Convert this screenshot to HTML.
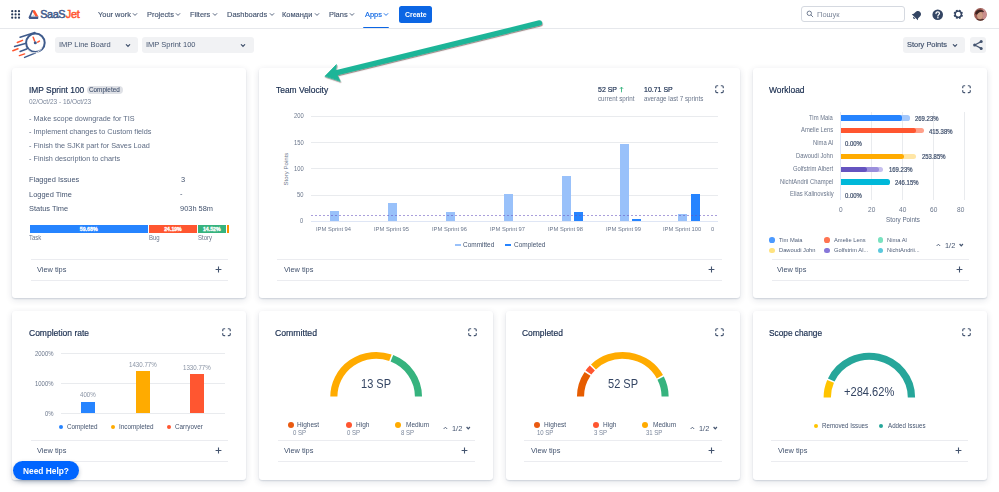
<!DOCTYPE html>
<html><head><meta charset="utf-8"><style>
html,body{margin:0;padding:0;background:#fff;width:999px;height:492px;overflow:hidden;position:relative;font-family:'Liberation Sans', sans-serif}
.t{position:absolute;white-space:nowrap}
.r{position:absolute}
svg.r{overflow:visible}
.card{position:absolute;background:#fff;border-radius:3px;box-shadow:0 1px 1.5px rgba(9,30,66,.13),0 2px 7px rgba(9,30,66,.12)}
</style></head><body>
<svg class="r" style="left:11px;top:10px;" width="9" height="9.5" viewBox="0 0 9 9.5"><circle cx="1.20" cy="1.20" r="1.1" fill="#253858"/><circle cx="1.20" cy="4.45" r="1.1" fill="#253858"/><circle cx="1.20" cy="7.70" r="1.1" fill="#253858"/><circle cx="4.60" cy="1.20" r="1.1" fill="#253858"/><circle cx="4.60" cy="4.45" r="1.1" fill="#253858"/><circle cx="4.60" cy="7.70" r="1.1" fill="#253858"/><circle cx="8.00" cy="1.20" r="1.1" fill="#253858"/><circle cx="8.00" cy="4.45" r="1.1" fill="#253858"/><circle cx="8.00" cy="7.70" r="1.1" fill="#253858"/></svg>
<svg class="r" style="left:27.5px;top:9.5px;" width="11" height="9.5" viewBox="0 0 11 9.5"><path d="M3.7 0.2 L6.8 0.2 L10.4 6.6 L7.5 6.6 Z" fill="#ff5630"/><path d="M3.7 0.2 L5.3 0.2 L2.9 6.4 L7.6 6.4 L10.4 6.6 L10.1 8.9 L1.3 9.1 L0.5 7.5 Z" fill="#42598a"/><path d="M3.6 6.8 L7.2 6.8 L5.7 4.2 Z" fill="#b8c2d3" opacity="0.8"/></svg>
<div class="t" style="left:40.31px;top:9px;font-size:10.90px;line-height:10.90px;color:#3f5a8a;font-weight:400;-webkit-text-stroke:0.5px #3f5a8a;letter-spacing:-0.450px;">SaaS</div>
<div class="t" style="left:65.74px;top:9px;font-size:10.90px;line-height:10.90px;color:#ff5630;font-weight:400;-webkit-text-stroke:0.5px #ff5630;letter-spacing:-0.300px;">Jet</div>
<div class="t" style="left:97.91px;top:11px;font-size:8.05px;line-height:8.05px;color:#44546f;font-weight:400;-webkit-text-stroke:0.15px #44546f;transform:scaleX(0.9259);transform-origin:0 0;">Your work</div>
<svg class="r" style="left:132.37px;top:12.3px;" width="6" height="5" viewBox="0 0 6 5"><path d="M1.2 1.6 L3 3.4 L4.8 1.6" stroke="#44546f" stroke-width="0.9" fill="none" stroke-linecap="round"/></svg>
<div class="t" style="left:147.20px;top:11px;font-size:8.05px;line-height:8.05px;color:#44546f;font-weight:400;-webkit-text-stroke:0.15px #44546f;transform:scaleX(0.9259);transform-origin:0 0;">Projects</div>
<svg class="r" style="left:175.44px;top:12.3px;" width="6" height="5" viewBox="0 0 6 5"><path d="M1.2 1.6 L3 3.4 L4.8 1.6" stroke="#44546f" stroke-width="0.9" fill="none" stroke-linecap="round"/></svg>
<div class="t" style="left:190.20px;top:11px;font-size:8.05px;line-height:8.05px;color:#44546f;font-weight:400;-webkit-text-stroke:0.15px #44546f;transform:scaleX(0.9259);transform-origin:0 0;">Filters</div>
<svg class="r" style="left:211.81px;top:12.3px;" width="6" height="5" viewBox="0 0 6 5"><path d="M1.2 1.6 L3 3.4 L4.8 1.6" stroke="#44546f" stroke-width="0.9" fill="none" stroke-linecap="round"/></svg>
<div class="t" style="left:227.10px;top:11px;font-size:8.05px;line-height:8.05px;color:#44546f;font-weight:400;-webkit-text-stroke:0.15px #44546f;transform:scaleX(0.9259);transform-origin:0 0;">Dashboards</div>
<svg class="r" style="left:268.6px;top:12.3px;" width="6" height="5" viewBox="0 0 6 5"><path d="M1.2 1.6 L3 3.4 L4.8 1.6" stroke="#44546f" stroke-width="0.9" fill="none" stroke-linecap="round"/></svg>
<div class="t" style="left:282.20px;top:11px;font-size:8.05px;line-height:8.05px;color:#44546f;font-weight:400;-webkit-text-stroke:0.15px #44546f;transform:scaleX(0.9259);transform-origin:0 0;">Команди</div>
<svg class="r" style="left:313.68px;top:12.3px;" width="6" height="5" viewBox="0 0 6 5"><path d="M1.2 1.6 L3 3.4 L4.8 1.6" stroke="#44546f" stroke-width="0.9" fill="none" stroke-linecap="round"/></svg>
<div class="t" style="left:329.40px;top:11px;font-size:8.05px;line-height:8.05px;color:#44546f;font-weight:400;-webkit-text-stroke:0.15px #44546f;transform:scaleX(0.9259);transform-origin:0 0;">Plans</div>
<svg class="r" style="left:349.37px;top:12.3px;" width="6" height="5" viewBox="0 0 6 5"><path d="M1.2 1.6 L3 3.4 L4.8 1.6" stroke="#44546f" stroke-width="0.9" fill="none" stroke-linecap="round"/></svg>
<div class="t" style="left:364.50px;top:11px;font-size:8.05px;line-height:8.05px;color:#0c66e4;font-weight:400;-webkit-text-stroke:0.15px #0c66e4;transform:scaleX(0.9259);transform-origin:0 0;">Apps</div>
<svg class="r" style="left:382.83px;top:12.3px;" width="6" height="5" viewBox="0 0 6 5"><path d="M1.2 1.6 L3 3.4 L4.8 1.6" stroke="#0c66e4" stroke-width="0.9" fill="none" stroke-linecap="round"/></svg>
<div class="r" style="left:363.00px;top:27.10px;width:25.60px;height:2.00px;background:#0c66e4;border-radius:1px"></div>
<div class="r" style="left:399.10px;top:6.10px;width:32.90px;height:16.50px;background:#0c66e4;border-radius:2.5px"></div>
<div class="t" style="left:404.72px;top:11px;font-size:7.47px;line-height:7.47px;color:#fff;font-weight:700;transform:scaleX(0.9259);transform-origin:0 0;">Create</div>
<div class="r" style="left:0.00px;top:28.00px;width:999.00px;height:1.00px;background:#e6e8ec;"></div>
<div class="r" style="left:801.20px;top:6.10px;width:103.80px;height:16.00px;background:#fff;border:1.2px solid #d5d9e0;border-radius:3px;box-sizing:border-box"></div>
<svg class="r" style="left:805.5px;top:10px;" width="8" height="8" viewBox="0 0 8 8"><circle cx="3.3" cy="3.3" r="2.2" stroke="#626f86" stroke-width="0.9" fill="none"/><path d="M5 5 L6.8 6.8" stroke="#626f86" stroke-width="0.9" stroke-linecap="round"/></svg>
<div class="t" style="left:817.40px;top:11px;font-size:8.10px;line-height:8.10px;color:#7d879a;font-weight:400;transform:scaleX(0.9259);transform-origin:0 0;">Пошук</div>
<svg class="r" style="left:911px;top:8.5px;" width="12" height="12" viewBox="0 0 12 12"><g transform="rotate(45 6 6)"><path d="M6 1.6 C3.8 1.6 2.9 3.3 2.9 5.3 L2.9 7.5 L1.7 9.1 L10.3 9.1 L9.1 7.5 L9.1 5.3 C9.1 3.3 8.2 1.6 6 1.6 Z" fill="#344563"/><path d="M4.7 9.7 L7.3 9.7 C7.2 10.7 6.6 11 6 11 C5.4 11 4.8 10.7 4.7 9.7Z" fill="#344563"/></g></svg>
<svg class="r" style="left:932px;top:8.6px;" width="11.5" height="11.5" viewBox="0 0 11.5 11.5"><circle cx="5.7" cy="5.7" r="5.3" fill="#344563"/><path d="M4 4.5 C4 3.4 4.8 2.8 5.8 2.8 C6.8 2.8 7.5 3.4 7.5 4.4 C7.5 5.6 5.9 5.7 5.9 7" stroke="#fff" stroke-width="1.25" fill="none" stroke-linecap="round"/><circle cx="5.9" cy="8.8" r="0.8" fill="#fff"/></svg>
<svg class="r" style="left:953px;top:9px;" width="10.6" height="10.6" viewBox="0 0 10.6 10.6"><circle cx="5.3" cy="5.3" r="3.15" fill="none" stroke="#344563" stroke-width="1.35"/><rect x="4.3" y="0.6" width="2" height="2.2" rx="0.4" fill="#344563" transform="rotate(22.5 5.3 5.3)"/><rect x="4.3" y="0.6" width="2" height="2.2" rx="0.4" fill="#344563" transform="rotate(67.5 5.3 5.3)"/><rect x="4.3" y="0.6" width="2" height="2.2" rx="0.4" fill="#344563" transform="rotate(112.5 5.3 5.3)"/><rect x="4.3" y="0.6" width="2" height="2.2" rx="0.4" fill="#344563" transform="rotate(157.5 5.3 5.3)"/><rect x="4.3" y="0.6" width="2" height="2.2" rx="0.4" fill="#344563" transform="rotate(202.5 5.3 5.3)"/><rect x="4.3" y="0.6" width="2" height="2.2" rx="0.4" fill="#344563" transform="rotate(247.5 5.3 5.3)"/><rect x="4.3" y="0.6" width="2" height="2.2" rx="0.4" fill="#344563" transform="rotate(292.5 5.3 5.3)"/><rect x="4.3" y="0.6" width="2" height="2.2" rx="0.4" fill="#344563" transform="rotate(337.5 5.3 5.3)"/></svg>
<svg class="r" style="left:973.8px;top:8px;" width="12.8" height="12.8" viewBox="0 0 12.8 12.8"><defs><clipPath id="avc"><circle cx="6.4" cy="6.4" r="6.3"/></clipPath></defs><g clip-path="url(#avc)"><rect width="13" height="13" fill="#9a5a52"/><rect x="8.5" y="0" width="5" height="13" fill="#c98e8e"/><ellipse cx="6" cy="7.6" rx="2.9" ry="3.8" fill="#cf9f86"/><path d="M1.2 6 C1.2 1.3 8.5 0.2 10.2 4.2 C8 3.2 4.5 3.6 3 6.8 Z" fill="#3b2320"/><path d="M0 13 C1 10.8 3.5 10.5 6 11.5 C8.5 10.5 10.5 10.8 13 13 Z" fill="#4d302b"/></g></svg>
<svg class="r" style="left:12px;top:28px;" width="36" height="32" viewBox="0 0 36 32"><g fill="none" stroke="#3f5b8c" stroke-width="1.5" stroke-linecap="round">
<circle cx="23.4" cy="14.8" r="9.3" stroke-width="2"/>
<path d="M8.1 9.3 L22.9 4.5"/><path d="M2.6 18.5 L13.3 15.5"/><path d="M8.1 23.5 L15.3 20.7"/><path d="M12.6 29.4 L23.6 24.9"/>
</g>
<path d="M15.5 21 A8 8 0 0 0 30 19" stroke="#e2e4e8" stroke-width="1" fill="none"/>
<g stroke="#ff5630" stroke-width="1.5" stroke-linecap="round">
<path d="M5.3 14.5 L10.5 12.4"/><path d="M0.8 22.8 L6 20.7"/><path d="M7.4 27.6 L12.6 25.9"/>
<path d="M21.2 9.3 L22.6 13.1"/><path d="M25.7 14.2 L27.4 13.1"/>
</g>
<circle cx="23.3" cy="14.8" r="1.5" fill="#3f5b8c"/></svg>
<div class="r" style="left:54.60px;top:36.90px;width:83.30px;height:16.20px;background:#f1f2f4;border-radius:3px"></div>
<div class="r" style="left:142.00px;top:36.90px;width:112.00px;height:16.20px;background:#f1f2f4;border-radius:3px"></div>
<div class="t" style="left:58.72px;top:41px;font-size:8.12px;line-height:8.12px;color:#44546f;font-weight:400;transform:scaleX(0.9259);transform-origin:0 0;">IMP Line Board</div>
<div class="t" style="left:145.82px;top:41px;font-size:8.12px;line-height:8.12px;color:#44546f;font-weight:400;transform:scaleX(0.9259);transform-origin:0 0;">IMP Sprint 100</div>
<svg class="r" style="left:124.8px;top:42.5px;" width="6" height="5" viewBox="0 0 6 5"><path d="M1.3 1.6 L3 3.3 L4.7 1.6" stroke="#44546f" stroke-width="1.2" fill="none" stroke-linecap="round"/></svg>
<svg class="r" style="left:240.3px;top:42.5px;" width="6" height="5" viewBox="0 0 6 5"><path d="M1.3 1.6 L3 3.3 L4.7 1.6" stroke="#44546f" stroke-width="1.2" fill="none" stroke-linecap="round"/></svg>
<div class="r" style="left:903.30px;top:37.10px;width:62.00px;height:15.80px;background:#f1f2f4;border-radius:3px"></div>
<div class="t" style="left:907.17px;top:41px;font-size:8.03px;line-height:8.03px;color:#44546f;font-weight:400;-webkit-text-stroke:0.2px #44546f;transform:scaleX(0.9259);transform-origin:0 0;">Story Points</div>
<svg class="r" style="left:952.3px;top:42.5px;" width="6" height="5" viewBox="0 0 6 5"><path d="M1.3 1.6 L3 3.3 L4.7 1.6" stroke="#44546f" stroke-width="1.2" fill="none" stroke-linecap="round"/></svg>
<div class="r" style="left:970.20px;top:37.10px;width:15.80px;height:15.80px;background:#f1f2f4;border-radius:3px"></div>
<svg class="r" style="left:972px;top:39px;" width="12" height="12" viewBox="0 0 12 12"><g fill="#44546f"><circle cx="9.2" cy="2.6" r="1.5"/><circle cx="2.7" cy="6" r="1.6"/><circle cx="9.2" cy="9.4" r="1.5"/></g><path d="M2.7 6 L9.2 2.6 M2.7 6 L9.2 9.4" stroke="#44546f" stroke-width="1.2"/></svg>
<div class="card" style="left:12px;top:68px;width:234.3px;height:230px"></div>
<div class="card" style="left:258.7px;top:68px;width:481.5px;height:230px"></div>
<div class="card" style="left:752.5px;top:68px;width:234.3px;height:230px"></div>
<div class="card" style="left:12px;top:311px;width:234.3px;height:168.6px"></div>
<div class="card" style="left:258.7px;top:311px;width:234.3px;height:168.6px"></div>
<div class="card" style="left:505.6px;top:311px;width:234.3px;height:168.6px"></div>
<div class="card" style="left:752.5px;top:311px;width:234.3px;height:168.6px"></div>
<div class="t" style="left:28.85px;top:86px;font-size:9.05px;line-height:9.05px;color:#172b4d;font-weight:400;-webkit-text-stroke:0.18px #172b4d;transform:scaleX(0.9259);transform-origin:0 0;">IMP Sprint 100</div>
<div class="r" style="left:87.20px;top:86.40px;width:35.80px;height:7.90px;background:#dfe1e6;border-radius:4px"></div>
<div class="t" style="left:89.48px;top:87px;font-size:6.86px;line-height:6.86px;color:#42526e;font-weight:400;-webkit-text-stroke:0.1px #42526e;transform:scaleX(0.9259);transform-origin:0 0;">Completed</div>
<div class="t" style="left:29.14px;top:98px;font-size:7.02px;line-height:7.02px;color:#7a869a;font-weight:400;transform:scaleX(0.9259);transform-origin:0 0;">02/Oct/23 - 16/Oct/23</div>
<div class="t" style="left:28.77px;top:115px;font-size:7.88px;line-height:7.88px;color:#5e6c84;font-weight:400;transform:scaleX(0.9259);transform-origin:0 0;">- Make scope downgrade for TIS</div>
<div class="t" style="left:28.77px;top:128px;font-size:7.88px;line-height:7.88px;color:#5e6c84;font-weight:400;transform:scaleX(0.9259);transform-origin:0 0;">- Implement changes to Custom fields</div>
<div class="t" style="left:28.77px;top:142px;font-size:7.88px;line-height:7.88px;color:#5e6c84;font-weight:400;transform:scaleX(0.9259);transform-origin:0 0;">- Finish the SJKit part for Saves Load</div>
<div class="t" style="left:28.77px;top:155px;font-size:7.88px;line-height:7.88px;color:#5e6c84;font-weight:400;transform:scaleX(0.9259);transform-origin:0 0;">- Finish description to charts</div>
<div class="t" style="left:28.66px;top:176px;font-size:8.03px;line-height:8.03px;color:#44546f;font-weight:400;transform:scaleX(0.9259);transform-origin:0 0;">Flagged Issues</div>
<div class="t" style="left:28.66px;top:191px;font-size:8.03px;line-height:8.03px;color:#44546f;font-weight:400;transform:scaleX(0.9259);transform-origin:0 0;">Logged Time</div>
<div class="t" style="left:28.92px;top:205px;font-size:8.03px;line-height:8.03px;color:#44546f;font-weight:400;transform:scaleX(0.9259);transform-origin:0 0;">Status Time</div>
<div class="t" style="left:180.50px;top:176px;font-size:8.03px;line-height:8.03px;color:#44546f;font-weight:400;transform:scaleX(0.9259);transform-origin:0 0;">3</div>
<div class="t" style="left:180.47px;top:190px;font-size:8.03px;line-height:8.03px;color:#44546f;font-weight:400;transform:scaleX(0.9259);transform-origin:0 0;">-</div>
<div class="t" style="left:180.47px;top:205px;font-size:8.03px;line-height:8.03px;color:#44546f;font-weight:400;transform:scaleX(0.9259);transform-origin:0 0;">903h 58m</div>
<div class="r" style="left:29.60px;top:224.80px;width:118.40px;height:8.30px;background:#2684ff;"></div>
<div class="r" style="left:149.00px;top:224.80px;width:47.70px;height:8.30px;background:#ff5630;"></div>
<div class="r" style="left:197.80px;top:224.80px;width:28.00px;height:8.30px;background:#36b37e;"></div>
<div class="r" style="left:227.20px;top:224.80px;width:2.10px;height:8.30px;background:#ff8b00;"></div>
<div class="t" style="left:79.79px;top:227px;font-size:5.24px;line-height:5.24px;color:#fff;font-weight:700;-webkit-text-stroke:0.3px #fff;">59.68%</div>
<div class="t" style="left:164.22px;top:227px;font-size:5.16px;line-height:5.16px;color:#fff;font-weight:700;-webkit-text-stroke:0.3px #fff;">24.19%</div>
<div class="t" style="left:202.99px;top:227px;font-size:5.20px;line-height:5.20px;color:#fff;font-weight:700;-webkit-text-stroke:0.3px #fff;">14.52%</div>
<div class="t" style="left:29.48px;top:235px;font-size:6.64px;line-height:6.64px;color:#6b778c;font-weight:400;transform:scaleX(0.9091);transform-origin:0 0;">Task</div>
<div class="t" style="left:148.52px;top:235px;font-size:6.64px;line-height:6.64px;color:#6b778c;font-weight:400;transform:scaleX(0.9091);transform-origin:0 0;">Bug</div>
<div class="t" style="left:197.53px;top:235px;font-size:6.64px;line-height:6.64px;color:#6b778c;font-weight:400;transform:scaleX(0.9091);transform-origin:0 0;">Story</div>
<div class="r" style="left:31.00px;top:259.10px;width:197.00px;height:1.00px;background:#ebecf0;"></div>
<div class="r" style="left:31.00px;top:279.80px;width:197.00px;height:1.00px;background:#ebecf0;"></div>
<div class="t" style="left:37.16px;top:266px;font-size:7.97px;line-height:7.97px;color:#44546f;font-weight:400;transform:scaleX(0.9259);transform-origin:0 0;">View tips</div>
<svg class="r" style="left:215px;top:265.8px;" width="7" height="7" viewBox="0 0 7 7"><path d="M3.5 0.6 V6.4 M0.6 3.5 H6.4" stroke="#44546f" stroke-width="1.1"/></svg>
<div class="t" style="left:276.23px;top:86px;font-size:9.13px;line-height:9.13px;color:#172b4d;font-weight:400;-webkit-text-stroke:0.18px #172b4d;transform:scaleX(0.9259);transform-origin:0 0;">Team Velocity</div>
<div class="t" style="left:597.92px;top:86px;font-size:7.56px;line-height:7.56px;color:#172b4d;font-weight:400;-webkit-text-stroke:0.18px #172b4d;transform:scaleX(0.9259);transform-origin:0 0;">52 SP</div>
<svg class="r" style="left:619px;top:85.8px;" width="5" height="7" viewBox="0 0 5 7"><path d="M2.5 6.3 V1.2 M0.9 2.8 L2.5 1.1 L4.1 2.8" stroke="#36b37e" stroke-width="0.9" fill="none"/></svg>
<div class="t" style="left:643.68px;top:86px;font-size:7.56px;line-height:7.56px;color:#172b4d;font-weight:400;-webkit-text-stroke:0.18px #172b4d;transform:scaleX(0.9259);transform-origin:0 0;">10.71 SP</div>
<div class="t" style="left:597.75px;top:96px;font-size:6.75px;line-height:6.75px;color:#6b778c;font-weight:400;transform:scaleX(0.9259);transform-origin:0 0;">current sprint</div>
<div class="t" style="left:643.75px;top:96px;font-size:6.75px;line-height:6.75px;color:#6b778c;font-weight:400;transform:scaleX(0.9259);transform-origin:0 0;">average last 7 sprints</div>
<svg class="r" style="left:715px;top:85.25px;" width="9" height="9" viewBox="0 0 9 9"><g fill="none" stroke="#44546f" stroke-width="1.2" stroke-linecap="round"><path d="M0.75 2.7 V1.9 Q0.75 0.75 1.9 0.75 H2.7"/><path d="M6.3 0.75 H7.1 Q8.25 0.75 8.25 1.9 V2.7"/><path d="M8.25 5.5 V6.5 Q8.25 7.7 7.1 7.7 H6.3"/><path d="M2.7 7.7 H1.9 Q0.75 7.7 0.75 6.5 V5.5"/></g></svg>
<div class="r" style="left:311.00px;top:115.60px;width:407.00px;height:1.00px;background:#e9ebee;"></div>
<div class="t" style="left:293.91px;top:113px;font-size:6.29px;line-height:6.29px;color:#6b778c;font-weight:400;transform:scaleX(0.9259);transform-origin:0 0;">200</div>
<div class="r" style="left:311.00px;top:141.90px;width:407.00px;height:1.00px;background:#e9ebee;"></div>
<div class="t" style="left:293.91px;top:140px;font-size:6.29px;line-height:6.29px;color:#6b778c;font-weight:400;transform:scaleX(0.9259);transform-origin:0 0;">150</div>
<div class="r" style="left:311.00px;top:168.20px;width:407.00px;height:1.00px;background:#e9ebee;"></div>
<div class="t" style="left:293.91px;top:166px;font-size:6.29px;line-height:6.29px;color:#6b778c;font-weight:400;transform:scaleX(0.9259);transform-origin:0 0;">100</div>
<div class="r" style="left:311.00px;top:194.50px;width:407.00px;height:1.00px;background:#e9ebee;"></div>
<div class="t" style="left:297.14px;top:192px;font-size:6.29px;line-height:6.29px;color:#6b778c;font-weight:400;transform:scaleX(0.9259);transform-origin:0 0;">50</div>
<div class="r" style="left:311.00px;top:220.60px;width:407.00px;height:1.00px;background:#dfe6f5;"></div>
<div class="t" style="left:300.37px;top:218px;font-size:6.29px;line-height:6.29px;color:#6b778c;font-weight:400;transform:scaleX(0.9259);transform-origin:0 0;">0</div>
<div class="t" style="left:269.83px;top:166px;font-size:6.10px;line-height:6.10px;color:#6b778c;font-weight:400;transform:rotate(-90deg);transform-origin:center">Story Points</div>
<div class="r" style="left:329.57px;top:210.80px;width:9.00px;height:10.30px;background:#99c1fa;"></div>
<div class="t" style="left:315.55px;top:226px;font-size:6.26px;line-height:6.26px;color:#6b778c;font-weight:400;transform:scaleX(0.9259);transform-origin:0 0;">IPM Sprint 94</div>
<div class="r" style="left:387.71px;top:203.20px;width:9.00px;height:17.90px;background:#99c1fa;"></div>
<div class="t" style="left:373.72px;top:226px;font-size:6.26px;line-height:6.26px;color:#6b778c;font-weight:400;transform:scaleX(0.9259);transform-origin:0 0;">IPM Sprint 95</div>
<div class="r" style="left:445.85px;top:212.30px;width:9.00px;height:8.80px;background:#99c1fa;"></div>
<div class="t" style="left:431.86px;top:226px;font-size:6.26px;line-height:6.26px;color:#6b778c;font-weight:400;transform:scaleX(0.9259);transform-origin:0 0;">IPM Sprint 96</div>
<div class="r" style="left:503.99px;top:194.00px;width:9.00px;height:27.10px;background:#99c1fa;"></div>
<div class="t" style="left:490.03px;top:226px;font-size:6.26px;line-height:6.26px;color:#6b778c;font-weight:400;transform:scaleX(0.9259);transform-origin:0 0;">IPM Sprint 97</div>
<div class="r" style="left:562.13px;top:175.70px;width:9.00px;height:45.40px;background:#99c1fa;"></div>
<div class="r" style="left:574.33px;top:211.70px;width:9.00px;height:9.40px;background:#2684ff;"></div>
<div class="t" style="left:548.14px;top:226px;font-size:6.26px;line-height:6.26px;color:#6b778c;font-weight:400;transform:scaleX(0.9259);transform-origin:0 0;">IPM Sprint 98</div>
<div class="r" style="left:620.27px;top:143.70px;width:9.00px;height:77.40px;background:#99c1fa;"></div>
<div class="r" style="left:632.47px;top:218.70px;width:9.00px;height:2.40px;background:#2684ff;"></div>
<div class="t" style="left:606.29px;top:226px;font-size:6.26px;line-height:6.26px;color:#6b778c;font-weight:400;transform:scaleX(0.9259);transform-origin:0 0;">IPM Sprint 99</div>
<div class="r" style="left:678.41px;top:214.00px;width:9.00px;height:7.10px;background:#99c1fa;"></div>
<div class="r" style="left:690.61px;top:194.00px;width:9.00px;height:27.10px;background:#2684ff;"></div>
<div class="t" style="left:662.78px;top:226px;font-size:6.26px;line-height:6.26px;color:#6b778c;font-weight:400;transform:scaleX(0.9259);transform-origin:0 0;">IPM Sprint 100</div>
<div class="t" style="left:711.27px;top:226px;font-size:6.26px;line-height:6.26px;color:#6b778c;font-weight:400;transform:scaleX(0.9259);transform-origin:0 0;">0</div>
<svg class="r" style="left:311px;top:214px;" width="407" height="3" viewBox="0 0 407 3"><path d="M0 1.5 H407" stroke="#6554c0" stroke-width="0.7" stroke-dasharray="2 2" opacity="0.8"/></svg>
<div class="r" style="left:454.50px;top:244.10px;width:6.30px;height:1.90px;background:#99c1fa;"></div>
<div class="r" style="left:505.00px;top:244.10px;width:6.30px;height:1.90px;background:#2684ff;"></div>
<div class="t" style="left:463.28px;top:241px;font-size:7.00px;line-height:7.00px;color:#44546f;font-weight:400;transform:scaleX(0.9259);transform-origin:0 0;">Committed</div>
<div class="t" style="left:513.58px;top:241px;font-size:7.00px;line-height:7.00px;color:#44546f;font-weight:400;transform:scaleX(0.9259);transform-origin:0 0;">Completed</div>
<div class="r" style="left:277.00px;top:259.10px;width:444.80px;height:1.00px;background:#ebecf0;"></div>
<div class="r" style="left:277.00px;top:279.80px;width:444.80px;height:1.00px;background:#ebecf0;"></div>
<div class="t" style="left:283.86px;top:266px;font-size:7.97px;line-height:7.97px;color:#44546f;font-weight:400;transform:scaleX(0.9259);transform-origin:0 0;">View tips</div>
<svg class="r" style="left:707.8px;top:265.7px;" width="7" height="7" viewBox="0 0 7 7"><path d="M3.5 0.6 V6.4 M0.6 3.5 H6.4" stroke="#44546f" stroke-width="1.1"/></svg>
<div class="t" style="left:768.96px;top:86px;font-size:9.14px;line-height:9.14px;color:#172b4d;font-weight:400;-webkit-text-stroke:0.18px #172b4d;transform:scaleX(0.9259);transform-origin:0 0;">Workload</div>
<svg class="r" style="left:961.5px;top:85.45px;" width="9" height="9" viewBox="0 0 9 9"><g fill="none" stroke="#44546f" stroke-width="1.2" stroke-linecap="round"><path d="M0.75 2.7 V1.9 Q0.75 0.75 1.9 0.75 H2.7"/><path d="M6.3 0.75 H7.1 Q8.25 0.75 8.25 1.9 V2.7"/><path d="M8.25 5.5 V6.5 Q8.25 7.7 7.1 7.7 H6.3"/><path d="M2.7 7.7 H1.9 Q0.75 7.7 0.75 6.5 V5.5"/></g></svg>
<div class="r" style="left:840.00px;top:111.90px;width:1.00px;height:88.50px;background:#dfe6f5;"></div>
<div class="t" style="left:838.67px;top:207px;font-size:6.86px;line-height:6.86px;color:#6b778c;font-weight:400;transform:scaleX(0.9524);transform-origin:0 0;">0</div>
<div class="r" style="left:871.00px;top:111.90px;width:1.00px;height:88.50px;background:#e9ebee;"></div>
<div class="t" style="left:867.82px;top:207px;font-size:6.86px;line-height:6.86px;color:#6b778c;font-weight:400;transform:scaleX(0.9524);transform-origin:0 0;">20</div>
<div class="r" style="left:902.00px;top:111.90px;width:1.00px;height:88.50px;background:#e9ebee;"></div>
<div class="t" style="left:898.92px;top:207px;font-size:6.86px;line-height:6.86px;color:#6b778c;font-weight:400;transform:scaleX(0.9524);transform-origin:0 0;">40</div>
<div class="r" style="left:933.00px;top:111.90px;width:1.00px;height:88.50px;background:#e9ebee;"></div>
<div class="t" style="left:929.82px;top:207px;font-size:6.86px;line-height:6.86px;color:#6b778c;font-weight:400;transform:scaleX(0.9524);transform-origin:0 0;">60</div>
<div class="r" style="left:964.00px;top:111.90px;width:1.00px;height:88.50px;background:#e9ebee;"></div>
<div class="t" style="left:957.34px;top:207px;font-size:6.86px;line-height:6.86px;color:#6b778c;font-weight:400;transform:scaleX(0.9524);transform-origin:0 0;">80</div>
<div class="t" style="left:885.62px;top:216px;font-size:7.04px;line-height:7.04px;color:#5e6c84;font-weight:400;transform:scaleX(0.8929);transform-origin:0 0;">Story Points</div>
<div class="t" style="left:809.31px;top:115px;font-size:6.33px;line-height:6.33px;color:#6b778c;font-weight:400;transform:scaleX(0.9259);transform-origin:0 0;">Tim Maia</div>
<div class="t" style="left:801.14px;top:127px;font-size:6.33px;line-height:6.33px;color:#6b778c;font-weight:400;transform:scaleX(0.9259);transform-origin:0 0;">Amelie Lens</div>
<div class="t" style="left:813.39px;top:140px;font-size:6.33px;line-height:6.33px;color:#6b778c;font-weight:400;transform:scaleX(0.9259);transform-origin:0 0;">Nima Al</div>
<div class="t" style="left:796.45px;top:153px;font-size:6.33px;line-height:6.33px;color:#6b778c;font-weight:400;transform:scaleX(0.9259);transform-origin:0 0;">Dawoudi John</div>
<div class="t" style="left:793.19px;top:166px;font-size:6.33px;line-height:6.33px;color:#6b778c;font-weight:400;transform:scaleX(0.9259);transform-origin:0 0;">Golfstrim Albert</div>
<div class="t" style="left:780.15px;top:179px;font-size:6.33px;line-height:6.33px;color:#6b778c;font-weight:400;transform:scaleX(0.9259);transform-origin:0 0;">NichtAndrii Champel</div>
<div class="t" style="left:789.53px;top:191px;font-size:6.33px;line-height:6.33px;color:#6b778c;font-weight:400;transform:scaleX(0.9259);transform-origin:0 0;">Elias Kalinovskiy</div>
<div class="r" style="left:840.50px;top:115.40px;width:69.20px;height:5.20px;background:#a4c8fb;border-radius:0 2.6px 2.6px 0"></div>
<div class="r" style="left:840.50px;top:115.40px;width:61.90px;height:5.20px;background:#2684ff;border-radius:0 2.6px 2.6px 0"></div>
<div class="t" style="left:915.30px;top:116px;font-size:6.43px;line-height:6.43px;color:#42526e;font-weight:400;-webkit-text-stroke:0.22px #42526e;transform:scaleX(0.9259);transform-origin:0 0;">269.23%</div>
<div class="r" style="left:840.50px;top:128.20px;width:83.50px;height:5.20px;background:#ffa08a;border-radius:0 2.6px 2.6px 0"></div>
<div class="r" style="left:840.50px;top:128.20px;width:75.50px;height:5.20px;background:#ff5630;border-radius:0 2.6px 2.6px 0"></div>
<div class="t" style="left:928.68px;top:129px;font-size:6.43px;line-height:6.43px;color:#42526e;font-weight:400;-webkit-text-stroke:0.22px #42526e;transform:scaleX(0.9259);transform-origin:0 0;">415.38%</div>
<div class="t" style="left:845.36px;top:141px;font-size:6.43px;line-height:6.43px;color:#42526e;font-weight:400;-webkit-text-stroke:0.22px #42526e;transform:scaleX(0.9259);transform-origin:0 0;">0.00%</div>
<div class="r" style="left:840.50px;top:153.80px;width:75.50px;height:5.20px;background:#ffe6a6;border-radius:0 2.6px 2.6px 0"></div>
<div class="r" style="left:840.50px;top:153.80px;width:63.20px;height:5.20px;background:#ffab00;border-radius:0 2.6px 2.6px 0"></div>
<div class="t" style="left:921.70px;top:154px;font-size:6.43px;line-height:6.43px;color:#42526e;font-weight:400;-webkit-text-stroke:0.22px #42526e;transform:scaleX(0.9259);transform-origin:0 0;">253.85%</div>
<div class="r" style="left:840.50px;top:166.60px;width:42.80px;height:5.20px;background:#c7c0ee;border-radius:0 2.6px 2.6px 0"></div>
<div class="r" style="left:840.50px;top:166.60px;width:38.10px;height:5.20px;background:#9b8fdc;border-radius:0 2.6px 2.6px 0"></div>
<div class="r" style="left:840.50px;top:166.60px;width:26.20px;height:5.20px;background:#6554c0;border-radius:0 2.6px 2.6px 0"></div>
<div class="t" style="left:888.55px;top:167px;font-size:6.43px;line-height:6.43px;color:#42526e;font-weight:400;-webkit-text-stroke:0.22px #42526e;transform:scaleX(0.9259);transform-origin:0 0;">169.23%</div>
<div class="r" style="left:840.50px;top:179.40px;width:49.20px;height:5.20px;background:#00b8d9;border-radius:0 2.6px 2.6px 0"></div>
<div class="t" style="left:894.90px;top:180px;font-size:6.43px;line-height:6.43px;color:#42526e;font-weight:400;-webkit-text-stroke:0.22px #42526e;transform:scaleX(0.9259);transform-origin:0 0;">246.15%</div>
<div class="t" style="left:845.36px;top:193px;font-size:6.43px;line-height:6.43px;color:#42526e;font-weight:400;-webkit-text-stroke:0.22px #42526e;transform:scaleX(0.9259);transform-origin:0 0;">0.00%</div>
<div class="r" style="left:769.3px;top:237.05px;width:5.7px;height:5.7px;border-radius:50%;background:#4c9aff"></div>
<div class="t" style="left:779.28px;top:237px;font-size:6.22px;line-height:6.22px;color:#505f79;font-weight:400;transform:scaleX(0.9259);transform-origin:0 0;">Tim Maia</div>
<div class="r" style="left:823.9px;top:237.05px;width:5.7px;height:5.7px;border-radius:50%;background:#ff7452"></div>
<div class="t" style="left:834.00px;top:237px;font-size:6.22px;line-height:6.22px;color:#505f79;font-weight:400;transform:scaleX(0.9259);transform-origin:0 0;">Amelie Lens</div>
<div class="r" style="left:877.8px;top:237.05px;width:5.7px;height:5.7px;border-radius:50%;background:#79e2c0"></div>
<div class="t" style="left:887.44px;top:237px;font-size:6.22px;line-height:6.22px;color:#505f79;font-weight:400;transform:scaleX(0.9259);transform-origin:0 0;">Nima Al</div>
<div class="r" style="left:769.3px;top:247.55px;width:5.7px;height:5.7px;border-radius:50%;background:#ffe380"></div>
<div class="t" style="left:778.94px;top:247px;font-size:6.22px;line-height:6.22px;color:#505f79;font-weight:400;transform:scaleX(0.9259);transform-origin:0 0;">Dawoudi John</div>
<div class="r" style="left:823.9px;top:247.55px;width:5.7px;height:5.7px;border-radius:50%;background:#8777d9"></div>
<div class="t" style="left:833.71px;top:247px;font-size:6.22px;line-height:6.22px;color:#505f79;font-weight:400;transform:scaleX(0.9259);transform-origin:0 0;">Golfstrim Al...</div>
<div class="r" style="left:877.8px;top:247.55px;width:5.7px;height:5.7px;border-radius:50%;background:#5bc8dd"></div>
<div class="t" style="left:887.44px;top:247px;font-size:6.22px;line-height:6.22px;color:#505f79;font-weight:400;transform:scaleX(0.9259);transform-origin:0 0;">NichtAndrii...</div>
<svg class="r" style="left:936px;top:242.6px;" width="5" height="4" viewBox="0 0 5 4"><path d="M0.6 3 L2.4 1.2 L4.2 3" stroke="#44546f" stroke-width="1" fill="none" opacity="0.85"/></svg>
<div class="t" style="left:944.75px;top:242px;font-size:7.94px;line-height:7.94px;color:#44546f;font-weight:400;transform:scaleX(0.9259);transform-origin:0 0;">1/2</div>
<svg class="r" style="left:959.1px;top:242.7px;" width="5" height="4" viewBox="0 0 5 4"><path d="M0.6 1 L2.25 2.8 L3.9 1" stroke="#44546f" stroke-width="1.25" fill="none"/></svg>
<div class="r" style="left:771.50px;top:259.10px;width:197.00px;height:1.00px;background:#ebecf0;"></div>
<div class="r" style="left:771.50px;top:279.80px;width:197.00px;height:1.00px;background:#ebecf0;"></div>
<div class="t" style="left:777.46px;top:266px;font-size:7.97px;line-height:7.97px;color:#44546f;font-weight:400;transform:scaleX(0.9259);transform-origin:0 0;">View tips</div>
<svg class="r" style="left:955.5px;top:266.2px;" width="7" height="7" viewBox="0 0 7 7"><path d="M3.5 0.6 V6.4 M0.6 3.5 H6.4" stroke="#44546f" stroke-width="1.1"/></svg>
<div class="t" style="left:29.07px;top:329px;font-size:9.20px;line-height:9.20px;color:#172b4d;font-weight:400;-webkit-text-stroke:0.18px #172b4d;transform:scaleX(0.9259);transform-origin:0 0;">Completion rate</div>
<svg class="r" style="left:222px;top:328.05px;" width="9" height="9" viewBox="0 0 9 9"><g fill="none" stroke="#44546f" stroke-width="1.2" stroke-linecap="round"><path d="M0.75 2.7 V1.9 Q0.75 0.75 1.9 0.75 H2.7"/><path d="M6.3 0.75 H7.1 Q8.25 0.75 8.25 1.9 V2.7"/><path d="M8.25 5.5 V6.5 Q8.25 7.7 7.1 7.7 H6.3"/><path d="M2.7 7.7 H1.9 Q0.75 7.7 0.75 6.5 V5.5"/></g></svg>
<div class="r" style="left:61.00px;top:352.50px;width:164.00px;height:1.00px;background:#e9ebee;"></div>
<div class="t" style="left:34.70px;top:351px;font-size:6.53px;line-height:6.53px;color:#6b778c;font-weight:400;transform:scaleX(0.9091);transform-origin:0 0;">2000%</div>
<div class="r" style="left:61.00px;top:382.90px;width:164.00px;height:1.00px;background:#e9ebee;"></div>
<div class="t" style="left:34.70px;top:381px;font-size:6.53px;line-height:6.53px;color:#6b778c;font-weight:400;transform:scaleX(0.9091);transform-origin:0 0;">1000%</div>
<div class="r" style="left:61.00px;top:412.90px;width:164.00px;height:1.00px;background:#e9ebee;"></div>
<div class="t" style="left:44.62px;top:411px;font-size:6.53px;line-height:6.53px;color:#6b778c;font-weight:400;transform:scaleX(0.9091);transform-origin:0 0;">0%</div>
<div class="r" style="left:81.00px;top:401.70px;width:13.90px;height:11.70px;background:#2684ff;"></div>
<div class="r" style="left:135.90px;top:370.70px;width:13.90px;height:42.70px;background:#ffab00;"></div>
<div class="r" style="left:190.20px;top:373.70px;width:13.90px;height:39.70px;background:#ff5630;"></div>
<div class="t" style="left:80.44px;top:392px;font-size:6.67px;line-height:6.67px;color:#8993a4;font-weight:400;transform:scaleX(0.9259);transform-origin:0 0;">400%</div>
<div class="t" style="left:128.56px;top:362px;font-size:6.67px;line-height:6.67px;color:#8993a4;font-weight:400;transform:scaleX(0.9259);transform-origin:0 0;">1430.77%</div>
<div class="t" style="left:183.16px;top:365px;font-size:6.67px;line-height:6.67px;color:#8993a4;font-weight:400;transform:scaleX(0.9259);transform-origin:0 0;">1330.77%</div>
<div class="r" style="left:58.80px;top:424.60px;width:4.6px;height:4.6px;border-radius:50%;background:#2684ff"></div>
<div class="t" style="left:67.28px;top:424px;font-size:6.84px;line-height:6.84px;color:#44546f;font-weight:400;transform:scaleX(0.9259);transform-origin:0 0;">Completed</div>
<div class="r" style="left:110.50px;top:424.60px;width:4.6px;height:4.6px;border-radius:50%;background:#ffab00"></div>
<div class="t" style="left:118.93px;top:424px;font-size:6.84px;line-height:6.84px;color:#44546f;font-weight:400;transform:scaleX(0.9259);transform-origin:0 0;">Incompleted</div>
<div class="r" style="left:166.60px;top:424.60px;width:4.6px;height:4.6px;border-radius:50%;background:#ff5630"></div>
<div class="t" style="left:175.28px;top:424px;font-size:6.84px;line-height:6.84px;color:#44546f;font-weight:400;transform:scaleX(0.9259);transform-origin:0 0;">Carryover</div>
<div class="r" style="left:30.80px;top:440.20px;width:197.20px;height:1.00px;background:#ebecf0;"></div>
<div class="r" style="left:30.80px;top:460.70px;width:197.20px;height:1.00px;background:#ebecf0;"></div>
<div class="t" style="left:37.16px;top:447px;font-size:7.97px;line-height:7.97px;color:#44546f;font-weight:400;transform:scaleX(0.9259);transform-origin:0 0;">View tips</div>
<svg class="r" style="left:214.5px;top:447.3px;" width="7" height="7" viewBox="0 0 7 7"><path d="M3.5 0.6 V6.4 M0.6 3.5 H6.4" stroke="#44546f" stroke-width="1.1"/></svg>
<div class="t" style="left:275.46px;top:328px;font-size:9.40px;line-height:9.40px;color:#172b4d;font-weight:400;-webkit-text-stroke:0.18px #172b4d;transform:scaleX(0.9259);transform-origin:0 0;">Committed</div>
<svg class="r" style="left:468.2px;top:328.05px;" width="9" height="9" viewBox="0 0 9 9"><g fill="none" stroke="#44546f" stroke-width="1.2" stroke-linecap="round"><path d="M0.75 2.7 V1.9 Q0.75 0.75 1.9 0.75 H2.7"/><path d="M6.3 0.75 H7.1 Q8.25 0.75 8.25 1.9 V2.7"/><path d="M8.25 5.5 V6.5 Q8.25 7.7 7.1 7.7 H6.3"/><path d="M2.7 7.7 H1.9 Q0.75 7.7 0.75 6.5 V5.5"/></g></svg>
<svg class="r" style="left:300px;top:346px;" width="250" height="50.8" viewBox="0 0 250 50.8"><g transform="translate(0 50.60000000000002) scale(1 0.975) translate(0 -50.60000000000002)"><path d="M33.85 50.60 A42.3 42.3 0 0 1 90.40 10.77" stroke="#ffab00" stroke-width="7.1" fill="none"/><path d="M91.90 11.34 A42.3 42.3 0 0 1 118.45 50.60" stroke="#36b37e" stroke-width="7.1" fill="none"/></g></svg>
<div class="t" style="left:361.42px;top:379px;font-size:11.91px;line-height:11.91px;color:#344563;font-weight:400;transform:scaleX(0.9259);transform-origin:0 0;">13 SP</div>
<div class="r" style="left:287.70px;top:421.80px;width:6.2px;height:6.2px;border-radius:50%;background:#ea5a10"></div>
<div class="t" style="left:297.48px;top:421px;font-size:7.04px;line-height:7.04px;color:#44546f;font-weight:400;transform:scaleX(0.9259);transform-origin:0 0;">Highest</div>
<div class="t" style="left:292.76px;top:430px;font-size:6.49px;line-height:6.49px;color:#7a869a;font-weight:400;transform:scaleX(0.9259);transform-origin:0 0;">0 SP</div>
<div class="r" style="left:346.10px;top:421.80px;width:6.2px;height:6.2px;border-radius:50%;background:#ff5630"></div>
<div class="t" style="left:355.98px;top:421px;font-size:7.04px;line-height:7.04px;color:#44546f;font-weight:400;transform:scaleX(0.9259);transform-origin:0 0;">High</div>
<div class="t" style="left:346.56px;top:430px;font-size:6.49px;line-height:6.49px;color:#7a869a;font-weight:400;transform:scaleX(0.9259);transform-origin:0 0;">0 SP</div>
<div class="r" style="left:395.30px;top:421.80px;width:6.2px;height:6.2px;border-radius:50%;background:#ffab00"></div>
<div class="t" style="left:405.98px;top:421px;font-size:7.04px;line-height:7.04px;color:#44546f;font-weight:400;transform:scaleX(0.9259);transform-origin:0 0;">Medium</div>
<div class="t" style="left:401.13px;top:430px;font-size:6.49px;line-height:6.49px;color:#7a869a;font-weight:400;transform:scaleX(0.9259);transform-origin:0 0;">8 SP</div>
<svg class="r" style="left:442.8px;top:426.3px;" width="5" height="4" viewBox="0 0 5 4"><path d="M0.6 3 L2.4 1.2 L4.2 3" stroke="#44546f" stroke-width="1" fill="none" opacity="0.85"/></svg>
<div class="t" style="left:451.55px;top:425px;font-size:7.94px;line-height:7.94px;color:#44546f;font-weight:400;transform:scaleX(0.9259);transform-origin:0 0;">1/2</div>
<svg class="r" style="left:465.90000000000003px;top:426.4px;" width="5" height="4" viewBox="0 0 5 4"><path d="M0.6 1 L2.25 2.8 L3.9 1" stroke="#44546f" stroke-width="1.25" fill="none"/></svg>
<div class="r" style="left:277.50px;top:440.20px;width:197.20px;height:1.00px;background:#ebecf0;"></div>
<div class="r" style="left:277.50px;top:460.70px;width:197.20px;height:1.00px;background:#ebecf0;"></div>
<div class="t" style="left:283.86px;top:447px;font-size:7.97px;line-height:7.97px;color:#44546f;font-weight:400;transform:scaleX(0.9259);transform-origin:0 0;">View tips</div>
<svg class="r" style="left:461.2px;top:447.3px;" width="7" height="7" viewBox="0 0 7 7"><path d="M3.5 0.6 V6.4 M0.6 3.5 H6.4" stroke="#44546f" stroke-width="1.1"/></svg>
<div class="t" style="left:522.48px;top:329px;font-size:9.13px;line-height:9.13px;color:#172b4d;font-weight:400;-webkit-text-stroke:0.18px #172b4d;transform:scaleX(0.9259);transform-origin:0 0;">Completed</div>
<svg class="r" style="left:715.3px;top:328.05px;" width="9" height="9" viewBox="0 0 9 9"><g fill="none" stroke="#44546f" stroke-width="1.2" stroke-linecap="round"><path d="M0.75 2.7 V1.9 Q0.75 0.75 1.9 0.75 H2.7"/><path d="M6.3 0.75 H7.1 Q8.25 0.75 8.25 1.9 V2.7"/><path d="M8.25 5.5 V6.5 Q8.25 7.7 7.1 7.7 H6.3"/><path d="M2.7 7.7 H1.9 Q0.75 7.7 0.75 6.5 V5.5"/></g></svg>
<svg class="r" style="left:540px;top:346px;" width="250" height="50.8" viewBox="0 0 250 50.8"><g transform="translate(0 50.60000000000002) scale(1 0.975) translate(0 -50.60000000000002)"><path d="M40.50 50.60 A42.3 42.3 0 0 1 47.54 27.23" stroke="#e65c00" stroke-width="7.1" fill="none"/><path d="M48.45 25.92 A42.3 42.3 0 0 1 52.33 21.26" stroke="#ff5630" stroke-width="7.1" fill="none"/><path d="M53.46 20.13 A42.3 42.3 0 0 1 119.88 30.24" stroke="#ffab00" stroke-width="7.1" fill="none"/><path d="M120.62 31.65 A42.3 42.3 0 0 1 125.10 50.60" stroke="#36b37e" stroke-width="7.1" fill="none"/></g></svg>
<div class="t" style="left:608.06px;top:379px;font-size:11.91px;line-height:11.91px;color:#344563;font-weight:400;transform:scaleX(0.9259);transform-origin:0 0;">52 SP</div>
<div class="r" style="left:533.90px;top:421.80px;width:6.2px;height:6.2px;border-radius:50%;background:#ea5a10"></div>
<div class="t" style="left:544.28px;top:421px;font-size:7.04px;line-height:7.04px;color:#44546f;font-weight:400;transform:scaleX(0.9259);transform-origin:0 0;">Highest</div>
<div class="t" style="left:536.95px;top:430px;font-size:6.49px;line-height:6.49px;color:#7a869a;font-weight:400;transform:scaleX(0.9259);transform-origin:0 0;">10 SP</div>
<div class="r" style="left:592.90px;top:421.80px;width:6.2px;height:6.2px;border-radius:50%;background:#ff5630"></div>
<div class="t" style="left:602.68px;top:421px;font-size:7.04px;line-height:7.04px;color:#44546f;font-weight:400;transform:scaleX(0.9259);transform-origin:0 0;">High</div>
<div class="t" style="left:593.56px;top:430px;font-size:6.49px;line-height:6.49px;color:#7a869a;font-weight:400;transform:scaleX(0.9259);transform-origin:0 0;">3 SP</div>
<div class="r" style="left:642.30px;top:421.80px;width:6.2px;height:6.2px;border-radius:50%;background:#ffab00"></div>
<div class="t" style="left:652.78px;top:421px;font-size:7.04px;line-height:7.04px;color:#44546f;font-weight:400;transform:scaleX(0.9259);transform-origin:0 0;">Medium</div>
<div class="t" style="left:645.76px;top:430px;font-size:6.49px;line-height:6.49px;color:#7a869a;font-weight:400;transform:scaleX(0.9259);transform-origin:0 0;">31 SP</div>
<svg class="r" style="left:690px;top:426.3px;" width="5" height="4" viewBox="0 0 5 4"><path d="M0.6 3 L2.4 1.2 L4.2 3" stroke="#44546f" stroke-width="1" fill="none" opacity="0.85"/></svg>
<div class="t" style="left:698.75px;top:425px;font-size:7.94px;line-height:7.94px;color:#44546f;font-weight:400;transform:scaleX(0.9259);transform-origin:0 0;">1/2</div>
<svg class="r" style="left:713.1px;top:426.4px;" width="5" height="4" viewBox="0 0 5 4"><path d="M0.6 1 L2.25 2.8 L3.9 1" stroke="#44546f" stroke-width="1.25" fill="none"/></svg>
<div class="r" style="left:524.40px;top:440.20px;width:197.20px;height:1.00px;background:#ebecf0;"></div>
<div class="r" style="left:524.40px;top:460.70px;width:197.20px;height:1.00px;background:#ebecf0;"></div>
<div class="t" style="left:530.76px;top:447px;font-size:7.97px;line-height:7.97px;color:#44546f;font-weight:400;transform:scaleX(0.9259);transform-origin:0 0;">View tips</div>
<svg class="r" style="left:708.1px;top:447.3px;" width="7" height="7" viewBox="0 0 7 7"><path d="M3.5 0.6 V6.4 M0.6 3.5 H6.4" stroke="#44546f" stroke-width="1.1"/></svg>
<div class="t" style="left:768.73px;top:329px;font-size:8.98px;line-height:8.98px;color:#172b4d;font-weight:400;-webkit-text-stroke:0.18px #172b4d;transform:scaleX(0.9259);transform-origin:0 0;">Scope change</div>
<svg class="r" style="left:962px;top:328.05px;" width="9" height="9" viewBox="0 0 9 9"><g fill="none" stroke="#44546f" stroke-width="1.2" stroke-linecap="round"><path d="M0.75 2.7 V1.9 Q0.75 0.75 1.9 0.75 H2.7"/><path d="M6.3 0.75 H7.1 Q8.25 0.75 8.25 1.9 V2.7"/><path d="M8.25 5.5 V6.5 Q8.25 7.7 7.1 7.7 H6.3"/><path d="M2.7 7.7 H1.9 Q0.75 7.7 0.75 6.5 V5.5"/></g></svg>
<svg class="r" style="left:790px;top:346px;" width="250" height="51.6" viewBox="0 0 250 51.6"><g transform="translate(0 51.39999999999998) scale(1 0.975) translate(0 -51.39999999999998)"><path d="M37.25 51.40 A42.1 42.1 0 0 1 40.57 35.01" stroke="#ffc400" stroke-width="7.3" fill="none"/><path d="M41.22 33.55 A42.1 42.1 0 0 1 121.45 51.40" stroke="#26a69a" stroke-width="7.3" fill="none"/></g></svg>
<div class="t" style="left:844.09px;top:386px;font-size:12.01px;line-height:12.01px;color:#344563;font-weight:400;transform:scaleX(0.9259);transform-origin:0 0;">+284.62%</div>
<div class="r" style="left:813.9px;top:423.5px;width:4.6px;height:4.6px;border-radius:50%;background:#ffc400"></div>
<div class="t" style="left:822.30px;top:423px;font-size:6.70px;line-height:6.70px;color:#44546f;font-weight:400;transform:scaleX(0.9259);transform-origin:0 0;">Removed Issues</div>
<div class="r" style="left:878.9px;top:423.5px;width:4.6px;height:4.6px;border-radius:50%;background:#26a69a"></div>
<div class="t" style="left:887.50px;top:423px;font-size:6.70px;line-height:6.70px;color:#44546f;font-weight:400;transform:scaleX(0.9259);transform-origin:0 0;">Added Issues</div>
<div class="r" style="left:771.30px;top:440.20px;width:197.20px;height:1.00px;background:#ebecf0;"></div>
<div class="r" style="left:771.30px;top:460.70px;width:197.20px;height:1.00px;background:#ebecf0;"></div>
<div class="t" style="left:777.66px;top:447px;font-size:7.97px;line-height:7.97px;color:#44546f;font-weight:400;transform:scaleX(0.9259);transform-origin:0 0;">View tips</div>
<svg class="r" style="left:955.0px;top:447.3px;" width="7" height="7" viewBox="0 0 7 7"><path d="M3.5 0.6 V6.4 M0.6 3.5 H6.4" stroke="#44546f" stroke-width="1.1"/></svg>
<div class="r" style="left:12.50px;top:460.70px;width:66.30px;height:19.00px;background:#0065ff;border-radius:10px;box-shadow:0 2px 4px rgba(9,30,66,.25)"></div>
<div class="t" style="left:22.96px;top:467px;font-size:9.03px;line-height:9.03px;color:#fff;font-weight:700;transform:scaleX(0.9259);transform-origin:0 0;">Need Help?</div>
<svg class="r" style="left:0;top:0" width="999" height="492" viewBox="0 0 999 492">
<defs><filter id="sh" x="-20%" y="-50%" width="140%" height="200%"><feDropShadow dx="0.6" dy="1.1" stdDeviation="0.7" flood-color="#3a1010" flood-opacity="0.5"/></filter></defs>
<g filter="url(#sh)" fill="#1fb598" stroke="#1fb598" stroke-linecap="round" stroke-linejoin="round">
<path d="M539.5 22.9 L334 73.4" stroke-width="5.3" fill="none"/>
<path d="M325.2 76 L336.4 64.6 L335.6 70.6 L337.8 76.2 L340 81 Z" stroke-width="0.8"/>
</g></svg>
</body></html>
